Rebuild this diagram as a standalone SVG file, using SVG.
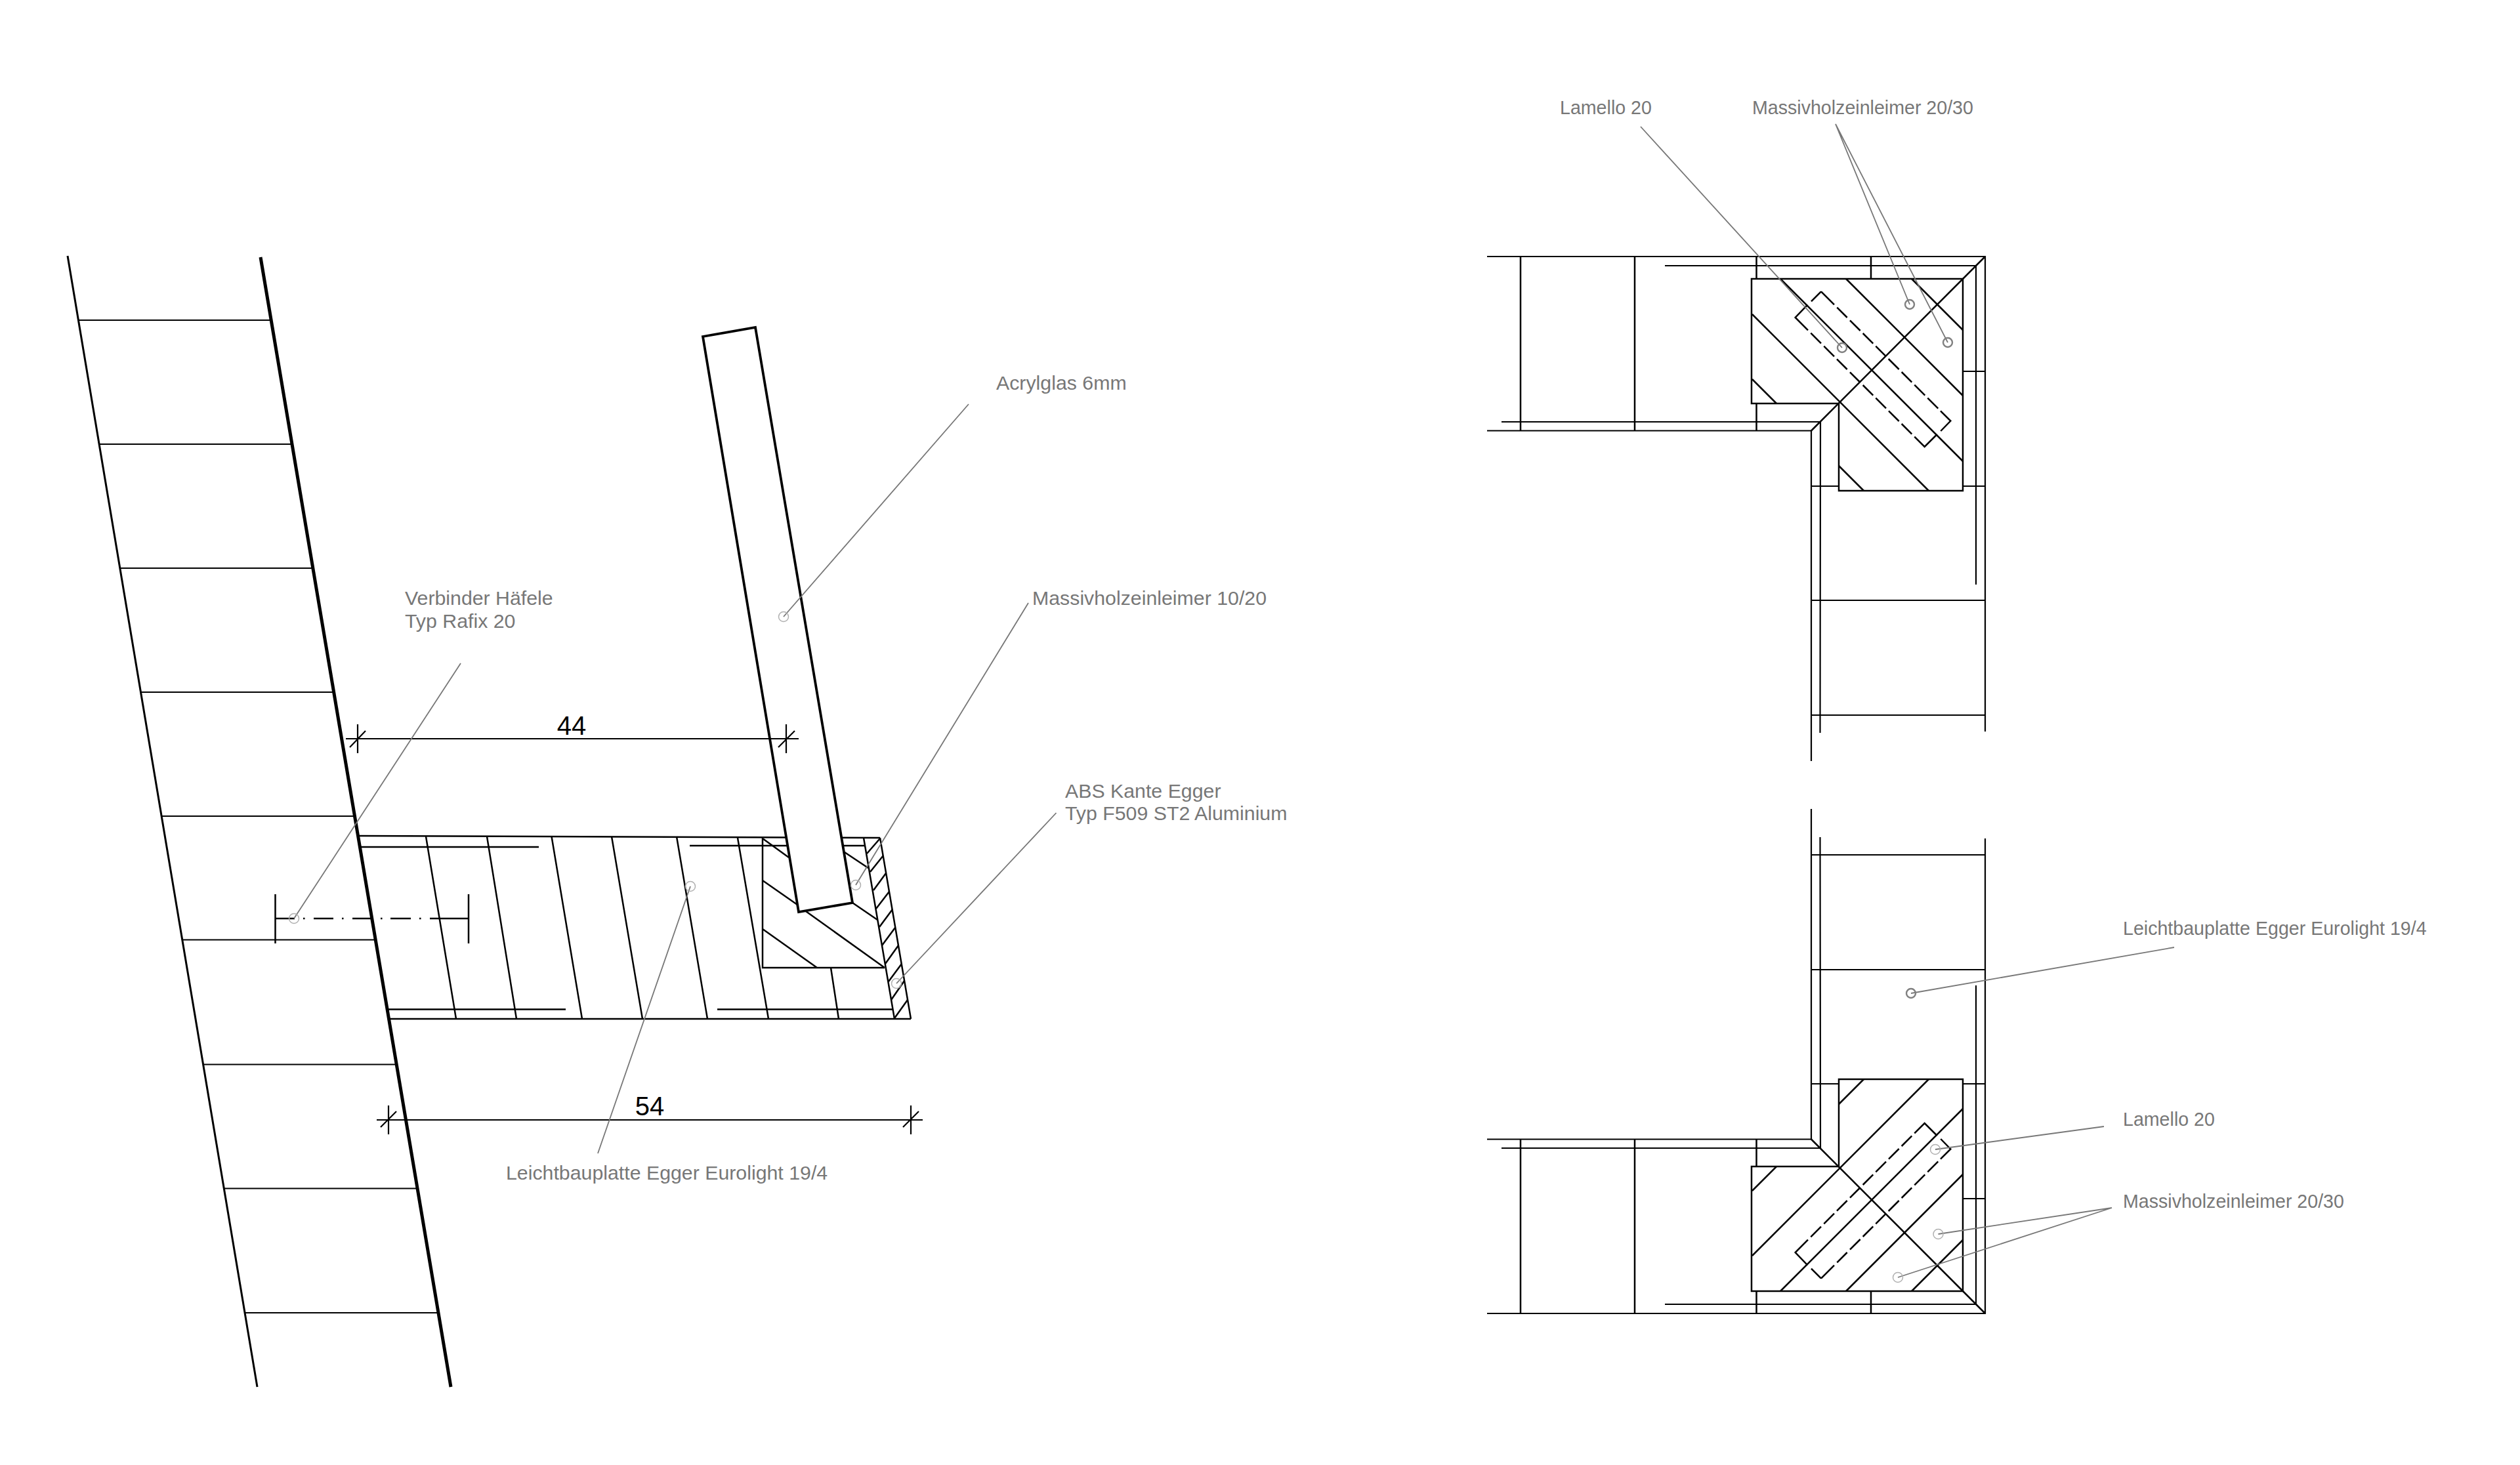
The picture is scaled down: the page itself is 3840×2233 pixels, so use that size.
<svg xmlns="http://www.w3.org/2000/svg" xmlns:xlink="http://www.w3.org/1999/xlink" width="3840" height="2233" viewBox="0 0 3840 2233">
<style>
.ln{fill:none;stroke:#000;stroke-width:2.500}
.thin{fill:none;stroke:#000;stroke-width:2.200}
.thick{fill:none;stroke:#000;stroke-width:5}
.glass{fill:#fff;stroke:#000;stroke-width:3.800;stroke-linejoin:miter}
.ld{fill:none;stroke:#777;stroke-width:1.800}
.dot{fill:none;stroke:#b0b0b0;stroke-width:1.500}
.dot2{fill:none;stroke:#808080;stroke-width:2.400}
text{font-family:"Liberation Sans",Arial,sans-serif;fill:#777}
.l{font-size:30.300px}
.r{font-size:28.600px}
.d{font-size:40px;fill:#000}
</style>
<defs>
<g id="corner">
<path class="thin" d="M2266 389H3025V1113M2537 403H3011V889M2266 654.500H2760V1158M2288 641H2774L2773.500 1115"/>
<path class="ln" d="M2317 389V654.500M2491 389V654.500M2676.500 389V423M2676.500 613V654.500M2851 389V423"/>
<path class="thin" d="M2991 564H3025M2760 739H2802M2991 739H3025M2760 913H3025M2760 1088H3025"/>
<path class="ln" d="M2669 423H2991V746H2802V613H2669Z"/>
<path class="ln" d="M3025 389L2760 654.500"/>
<path class="ln" d="M2670 477L2939 746M2670 576L2707 613M2802 708L2840 746M2713 423L2991 701M2813 423L2991 601M2913 423L2991 501"/>
<path class="ln" d="M2775 442.300L2795 462.300M2799.300 466.600L2814.700 482M2819 486.300L2834.700 502M2838.700 506L2854.300 521.600M2858.300 525.600L2873.300 540.600M2877.700 545L2893.700 561M2897.700 565L2913.300 580.600M2917.300 584.600L2933.300 600.600M2937.300 604.600L2953.300 620.600M2957 624.300L2972.300 639.600L2957.300 655M2951.700 660L2932.700 679L2917.300 663.600M2913.300 659.600L2897.700 644M2893.700 640L2878 624.300M2874 620.300L2858.300 604.600M2854.300 600.600L2838.700 585M2833.700 580L2819 565.300M2814.700 561L2799 545.300M2795 541.300L2779.300 525.600M2775 521.300L2759.300 505.600M2755 501.300L2735.700 482L2754.300 462.700M2760 457.300L2775 442.300"/>
</g>
</defs>
<g transform="translate(0 2)">
<g id="wall">
<path class="ln" d="M103 388L392 2112" style="stroke-width:3"/>
<path class="thick" d="M397 390L687 2112"/>
<path class="thin" d="M119 486H411M151 675H444M183 864H475M215 1053H507M246 1242H539M278 1430.500H570M310 1620.500H602M342 1809.500H634M374 1999H666"/>
</g>
<g id="panel">
<path class="ln" d="M546 1272L1341 1275M593 1551H1388M549 1289H821M1051 1287H1318M591 1536.500H862M1093 1536.500H1360"/>
<path class="ln" d="M649 1273L695 1551M742 1273L787 1551M840.500 1273L887 1551M932 1273L979 1551M1031 1273L1078 1551M1124 1275L1171 1551M1266 1473L1278 1551"/>
<path class="ln" d="M1162 1275V1473H1348M1162 1276L1202 1305M1162 1340L1215 1377M1162 1414L1245 1473M1228 1387L1348 1473M1299 1374L1337 1400M1287 1297L1323 1321"/>
<path class="ln" d="M1316 1275L1363 1551M1341 1275L1388 1551"/>
<path class="ln" d="M1321 1299L1341 1276M1326 1327L1346 1302M1331 1355L1350 1329M1335 1383L1355 1357M1340 1411L1360 1384M1344 1439L1364 1412M1349 1467L1369 1439M1354 1494L1374 1467M1358 1522L1378 1493M1363 1550L1383 1522"/>
</g>
<g id="acrylglas">
<path class="glass" d="M1071 511L1151 497L1299 1374L1217 1388Z"/>
</g>
<g id="verbinder">
<path class="ln" d="M419.500 1361V1436M714 1361V1436"/>
<path class="ln" d="M420 1398H449M462 1398H464.500M478 1398H508M521 1398H523.500M537 1398H566M580 1398H582.500M595 1398H626M639 1398H641.500M655 1398H714"/>
</g>
<g id="dimensions">
<path class="thin" d="M527 1124H1217M545 1102V1146M533 1137L557 1112M1198 1102V1146M1186 1137L1211 1112"/>
<path class="thin" d="M574 1705H1406M592 1683V1727M580 1716L604 1692M1388 1683V1727M1376 1716L1400 1692"/>
<text class="d" x="871" y="1118" text-anchor="middle">44</text>
<text class="d" x="990" y="1698" text-anchor="middle">54</text>
</g>
<g id="corner-top"><use href="#corner" xlink:href="#corner"/></g>
<g id="corner-bottom"><use href="#corner" xlink:href="#corner" transform="matrix(1 0 0 -1 0 2389)"/></g>
<g id="leaders">
<path class="ld" d="M702 1009L448 1398M911 1756L1052 1349M1476 614L1194 938M1567 917L1304 1347M1609.500 1237L1366 1497"/>
<circle class="dot" cx="448" cy="1398" r="7.500"/>
<circle class="dot" cx="1052" cy="1349" r="7.500"/>
<circle class="dot" cx="1194" cy="938" r="7.500"/>
<circle class="dot" cx="1304" cy="1347" r="7.500"/>
<circle class="dot" cx="1366" cy="1497" r="7.500"/>
<path class="ld" d="M2500 191L2807 528M2797 187L2910 462M2797 187L2968 520"/>
<circle class="dot2" cx="2807" cy="528" r="7"/>
<circle class="dot2" cx="2910" cy="462" r="7"/>
<circle class="dot2" cx="2968" cy="520" r="7"/>
<path class="ld" d="M3313 1442L2912 1512M3206 1715L2949 1750M3218 1839L2953.500 1879M3218 1839L2892 1945"/>
<circle class="dot2" cx="2912" cy="1512" r="7"/>
<circle class="dot" cx="2949" cy="1750" r="7.500"/>
<circle class="dot" cx="2953.500" cy="1879" r="7.500"/>
<circle class="dot" cx="2892" cy="1945" r="7.500"/>
</g>
<g id="labels">
<text class="l" x="617" y="920">Verbinder Häfele</text>
<text class="l" x="617" y="954.500">Typ Rafix 20</text>
<text class="l" x="1518" y="592">Acrylglas 6mm</text>
<text class="l" x="1573" y="920">Massivholzeinleimer 10/20</text>
<text class="l" x="1623" y="1214">ABS Kante Egger</text>
<text class="l" x="1623" y="1248">Typ F509 ST2 Aluminium</text>
<text class="l" x="771" y="1796">Leichtbauplatte Egger Eurolight 19/4</text>
<text class="r" x="2377" y="171.700">Lamello 20</text>
<text class="r" x="2670" y="171.700">Massivholzeinleimer 20/30</text>
<text class="r" x="3235" y="1422.500">Leichtbauplatte Egger Eurolight 19/4</text>
<text class="r" x="3235" y="1714">Lamello 20</text>
<text class="r" x="3235" y="1839">Massivholzeinleimer 20/30</text>
</g>
</g>
</svg>
